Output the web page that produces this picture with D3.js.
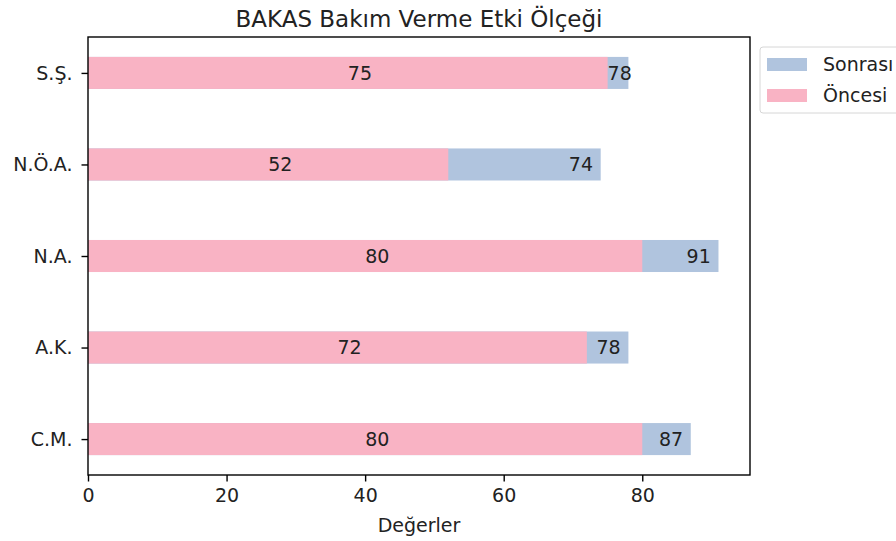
<!DOCTYPE html>
<html>
<head>
<meta charset="utf-8">
<script src="https://cdn.jsdelivr.net/npm/d3@7"></script>
<style>
  html, body { margin: 0; padding: 0; background: #fff; }
  svg { display: block; font-family: "DejaVu Sans", sans-serif; }
</style>
</head>
<body>
<div id="chart"></div>
<script>
// Categories from bottom to top, as in the picture
const categories = ['C.M.', 'A.K.', 'N.A.', 'N.Ö.A.', 'S.Ş.'];
const oncesi = [80, 72, 80, 52, 75];
const sonrasi = [87, 78, 91, 74, 78];
const xTicks = [0, 20, 40, 60, 80];

const W = 896, H = 541;
const margin = { top: 37, right: 146, bottom: 66, left: 88 };
const width = W - margin.left - margin.right;
const height = H - margin.top - margin.bottom;
const fs = 19;

const svg = d3.select('#chart').append('svg')
  .attr('width', W).attr('height', H);

const g = svg.append('g').attr('transform', `translate(${margin.left},${margin.top})`);

const xMax = d3.max(sonrasi) * 1.05;
const x = d3.scaleLinear().domain([0, xMax]).range([0, width]);
// bar height 0.35, 5% margins like matplotlib
const barH = 0.35;
const lo = -barH / 2, hi = categories.length - 1 + barH / 2;
const pad = (hi - lo) * 0.05;
const y = d3.scaleLinear().domain([lo - pad, hi + pad]).range([height, 0]);

const blue = '#b0c4de', pink = '#f9b3c4';

const rows = categories.map((c, i) => ({ c, i, before: oncesi[i], after: sonrasi[i] }));

// Sonrası bars (behind)
g.selectAll('.after').data(rows).enter().append('rect')
  .attr('x', x(0))
  .attr('y', d => y(d.i + barH / 2))
  .attr('width', d => x(d.after) - x(0))
  .attr('height', d => y(d.i - barH / 2) - y(d.i + barH / 2))
  .attr('fill', blue);

// Öncesi bars (front)
g.selectAll('.before').data(rows).enter().append('rect')
  .attr('x', x(0))
  .attr('y', d => y(d.i + barH / 2))
  .attr('width', d => x(d.before) - x(0))
  .attr('height', d => y(d.i - barH / 2) - y(d.i + barH / 2))
  .attr('fill', pink);

// value labels
g.selectAll('.lb').data(rows).enter().append('text')
  .attr('x', d => x(d.before / 2))
  .attr('y', d => y(d.i))
  .attr('dy', '0.35em')
  .style('font-size', fs + 'px')
  .attr('fill', '#222')
  .text(d => d.before);

g.selectAll('.la').data(rows).enter().append('text')
  .attr('x', d => x(Math.max(d.after - 4.6, d.before)))
  .attr('y', d => y(d.i))
  .attr('dy', '0.35em')
  .style('font-size', fs + 'px')
  .attr('fill', '#222')
  .text(d => d.after);

// axes
const xAxis = g.append('g')
  .attr('transform', `translate(0,${height})`)
  .call(d3.axisBottom(x).tickValues(xTicks).tickSize(6.5).tickPadding(7));
const yAxis = g.append('g')
  .call(d3.axisLeft(y).tickValues(d3.range(categories.length)).tickFormat(i => categories[i]).tickSize(6.5).tickPadding(9));
[xAxis, yAxis].forEach(a => {
  a.select('.domain').remove();
  a.selectAll('text').style('font-size', fs + 'px').attr('fill', '#222').style('font-family', '"DejaVu Sans", sans-serif');
  a.selectAll('line').attr('stroke', '#000').attr('stroke-width', 1.4);
});

// frame
g.append('rect').attr('x', 0).attr('y', 0).attr('width', width).attr('height', height)
  .attr('fill', 'none').attr('stroke', '#000').attr('stroke-width', 1.4);

// title & axis label
svg.append('text')
  .attr('x', margin.left + width / 2).attr('y', 27)
  .attr('text-anchor', 'middle')
  .style('font-size', '23px').attr('fill', '#222')
  .text('BAKAS Bakım Verme Etki Ölçeği');

svg.append('text')
  .attr('x', margin.left + width / 2).attr('y', 532)
  .attr('text-anchor', 'middle')
  .style('font-size', fs + 'px').attr('fill', '#222')
  .text('Değerler');

// legend
const leg = svg.append('g').attr('transform', `translate(${margin.left + width + 10},47)`);
leg.append('rect').attr('x', 0).attr('y', 0).attr('width', 160).attr('height', 66)
  .attr('rx', 3).attr('fill', '#fff').attr('stroke', '#d6d6d6');
[['Sonrası', blue], ['Öncesi', pink]].forEach(([name, col], k) => {
  leg.append('rect').attr('x', 7).attr('y', 11 + k * 31).attr('width', 40).attr('height', 13).attr('fill', col);
  leg.append('text').attr('x', 63).attr('y', 17.5 + k * 31).attr('dy', '0.35em')
    .style('font-size', fs + 'px').attr('fill', '#222').text(name);
});
</script>
</body>
</html>
